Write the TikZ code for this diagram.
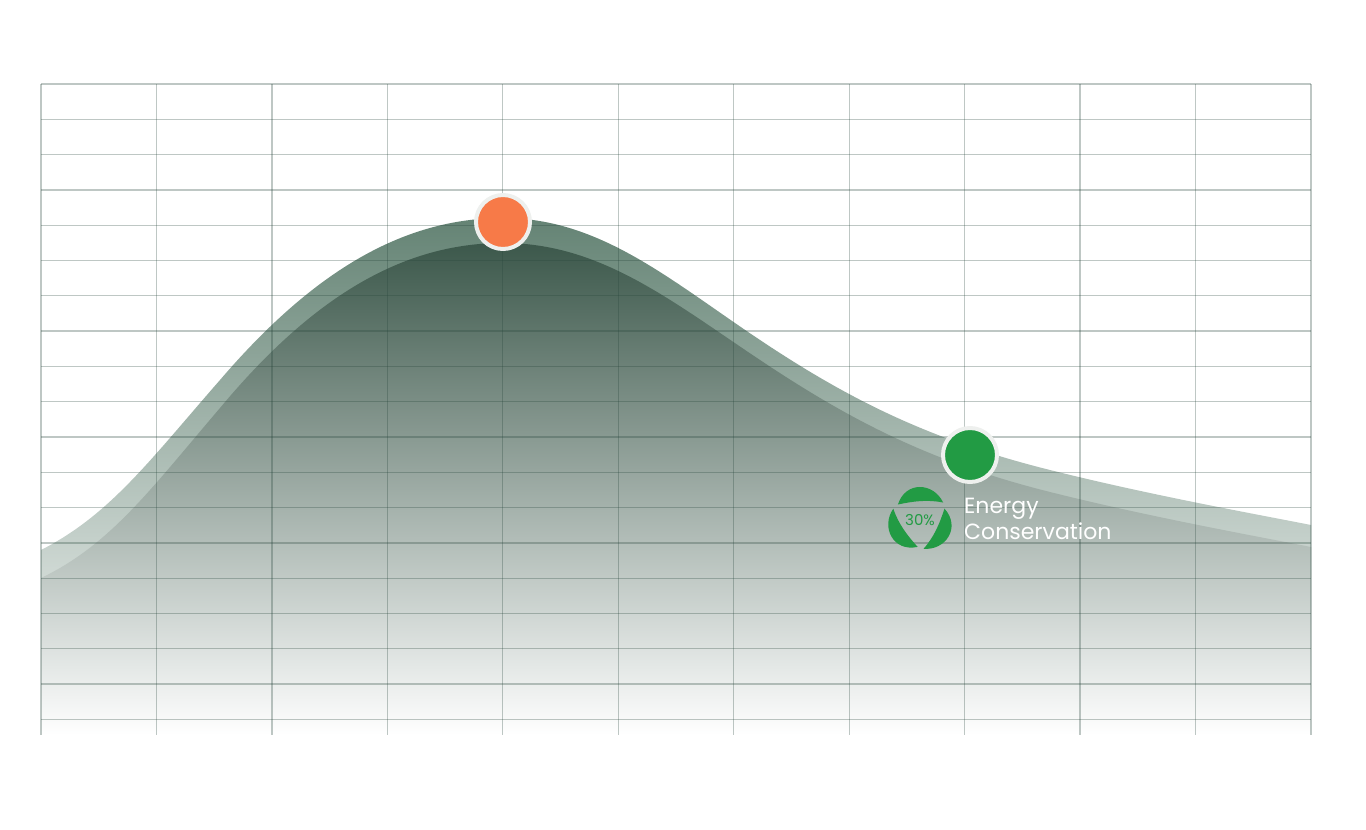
\documentclass[tikz,border=0pt]{standalone}
\usepackage{fontspec}
\setmainfont{Poppins}
\definecolor{bandlight}{RGB}{100,131,116}
\definecolor{banddark}{RGB}{60,88,75}
\definecolor{gridline}{RGB}{40,70,60}
\definecolor{peakorange}{RGB}{247,122,72}
\definecolor{leafgreen}{RGB}{34,155,68}
\definecolor{ringgrey}{RGB}{238,240,238}
\tikzset{
  dot/.style={circle, minimum size=54pt, inner sep=0pt, draw=ringgrey, line width=4pt},
  leaf/.style={fill=leafgreen},
  gridrule/.style={gridline, draw opacity=0.3, line width=1.3pt},
}
\begin{document}
\begin{tikzpicture}[x=1pt,y=-1pt]
\useasboundingbox (0,0) rectangle (1366,830);

%Outer band
\shade [top color=bandlight, middle color=bandlight!88!white, bottom color=white] (41,550) .. controls (110,515) and (150,460) .. (220,380) .. controls (310,275) and (400,218) .. (503,218) .. controls (600,218) and (670,280) .. (760,340) .. controls (850,400) and (930,440) .. (1050,470) .. controls (1150,495) and (1250,513) .. (1311,525) -- (1311,735) -- (41,735) -- cycle;

%Inner area
\shade [top color=banddark, middle color=banddark!88!white, bottom color=white] (41,578) .. controls (110,545) and (150,490) .. (220,408) .. controls (310,300) and (400,243) .. (503,243) .. controls (600,243) and (670,300) .. (760,360) .. controls (850,420) and (930,462) .. (1050,492) .. controls (1150,517) and (1250,535) .. (1311,547) -- (1311,735) -- (41,735) -- cycle;

%Grid
\foreach \k in {0,...,18}
  \draw [gridrule] (41,84+\k*35.3) -- (1311,84+\k*35.3);
\foreach \k in {0,...,11}
  \draw [gridrule] (41+\k*115.45,84) -- (41+\k*115.45,735);

%Points
\node [dot, fill=peakorange] (peak) at (503,222) {};
\node [dot, fill=leafgreen] (saving) at (970,455) {};

%Recycle icon
\begin{scope}[shift={(920,520)}]
  \foreach \a in {95,215,335}
    \fill [leaf] (\a:27) .. controls (\a+35:42) and (\a+75:40) .. (\a+108:29) .. controls (\a+75:22) and (\a+35:20) .. cycle;
  \node [text=leafgreen, font=\fontsize{15}{15}\selectfont] (pct) at (0,0) {30\%};
\end{scope}

%Label
\node [anchor=north west, text=white, align=left, inner sep=0pt, font=\fontsize{22}{26}\selectfont] (label) at (964,498) {Energy\\Conservation};

\end{tikzpicture}
\end{document}
